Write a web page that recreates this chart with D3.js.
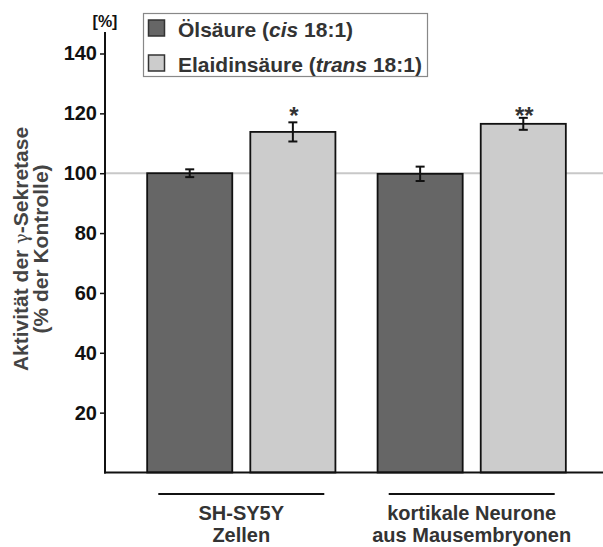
<!DOCTYPE html>
<html>
<head>
<meta charset="utf-8">
<script src="https://cdn.jsdelivr.net/npm/d3@7"></script>
<style>
  html, body { margin: 0; padding: 0; background: #fff; }
  svg { display: block; font-family: "Liberation Sans", Arial, sans-serif; }
</style>
</head>
<body>
<svg id="chart" width="603" height="547"></svg>
<script>
// Cell types (groups along the x axis)
const groups = ["SH-SY5Y Zellen", "kortikale Neurone aus Mausembryonen"];
const groupLines = [["SH-SY5Y", "Zellen"], ["kortikale Neurone", "aus Mausembryonen"]];
// Fatty acid treatments
const series = ["cis", "trans"];
// gamma-secretase activity, % of control
const means = [[100, 113.8], [99.8, 116.5]];
const errors = [[1.3, 3.2], [2.4, 2.0]];
const stars = [["", "*"], ["", "**"]];
const yTicks = [20, 40, 60, 80, 100, 120, 140];

const svg = d3.select("#chart");
const W = 603;

const y = d3.scaleLinear().domain([0, 140]).range([472.5, 53.5]);
const x0 = d3.scaleBand().domain(groups).range([105, 608]).paddingInner(0.183).paddingOuter(0.183);
const x1 = d3.scaleBand().domain(series).range([0, x0.bandwidth()]).paddingInner(0.175);
const fill = d3.scaleOrdinal().domain(series).range(["#666666", "#cccccc"]);

// control reference line at 100 %
svg.append("line")
  .attr("x1", 105).attr("x2", W)
  .attr("y1", y(100)).attr("y2", y(100))
  .attr("stroke", "#c8c8c8").attr("stroke-width", 2);

// significance marks share one level above both groups
const starLevel = 122;

// bars
const g = svg.selectAll("g.grp").data(groups).join("g")
  .attr("class", "grp")
  .attr("transform", d => `translate(${x0(d)},0)`);

g.each(function(grp, gi) {
  const sel = d3.select(this);
  series.forEach((s, si) => {
    const v = means[gi][si], e = errors[gi][si];
    const cx = x1(s) + x1.bandwidth() / 2;
    sel.append("rect")
      .attr("x", x1(s)).attr("width", x1.bandwidth())
      .attr("y", y(v)).attr("height", y(0) - y(v))
      .attr("fill", fill(s)).attr("stroke", "#111").attr("stroke-width", 1.8);
    // error bar
    const eb = sel.append("g").attr("stroke", "#111").attr("stroke-width", 2);
    eb.append("line").attr("x1", cx).attr("x2", cx).attr("y1", y(v + e)).attr("y2", y(v - e));
    eb.append("line").attr("x1", cx - 4.5).attr("x2", cx + 4.5).attr("y1", y(v + e)).attr("y2", y(v + e));
    eb.append("line").attr("x1", cx - 4.5).attr("x2", cx + 4.5).attr("y1", y(v - e)).attr("y2", y(v - e));
    if (stars[gi][si]) {
      sel.append("text")
        .attr("x", cx + 1).attr("y", y(starLevel) + 17)
        .attr("text-anchor", "middle")
        .attr("font-size", 24).attr("font-weight", "bold").attr("fill", "#333")
        .text(stars[gi][si]);
    }
  });
});

// y axis
const yAxis = d3.axisLeft(y).tickValues(yTicks).tickSize(5).tickPadding(3);
const ya = svg.append("g").attr("transform", "translate(105,0)").call(yAxis);
ya.select(".domain").remove();
ya.selectAll(".tick line").attr("stroke", "#111").attr("stroke-width", 1.5);
ya.selectAll(".tick text")
  .attr("font-size", 20).attr("font-weight", "bold").attr("fill", "#111")
  .attr("font-family", "'Liberation Sans', Arial, sans-serif");
svg.append("line").attr("x1", 105).attr("x2", 105).attr("y1", 32).attr("y2", 473.5)
  .attr("stroke", "#111").attr("stroke-width", 2);
// baseline
svg.append("line").attr("x1", 104).attr("x2", W).attr("y1", 472.5).attr("y2", 472.5)
  .attr("stroke", "#111").attr("stroke-width", 2);

svg.append("text").attr("x", 105).attr("y", 27).attr("text-anchor", "middle")
  .attr("font-size", 16).attr("font-weight", "bold").attr("fill", "#111").text("[%]");

// y axis title
const yt = svg.append("text")
  .attr("transform", "translate(0,249) rotate(-90)")
  .attr("text-anchor", "middle")
  .attr("font-size", 21).attr("font-weight", "bold").attr("fill", "#444");
const l1 = yt.append("tspan").attr("x", 0).attr("y", 28);
l1.append("tspan").text("Aktivität der ");
l1.append("tspan").attr("font-weight", "normal").attr("font-family", "'DejaVu Serif', serif").attr("font-size", 18).text("γ");
l1.append("tspan").text("-Sekretase");
yt.append("tspan").attr("x", 0).attr("y", 48).text("(% der Kontrolle)");

// group labels below the axis
groups.forEach((grp, gi) => {
  const cx = x0(grp) + x0.bandwidth() / 2;
  svg.append("line").attr("x1", cx - 83).attr("x2", cx + 83).attr("y1", 494).attr("y2", 494)
    .attr("stroke", "#111").attr("stroke-width", 2);
  const t = svg.append("text").attr("text-anchor", "middle")
    .attr("font-size", 20).attr("font-weight", "bold").attr("fill", "#333");
  groupLines[gi].forEach((ln, li) => {
    t.append("tspan").attr("x", cx).attr("y", 520 + li * 22).text(ln);
  });
});

// legend
const lg = svg.append("g");
lg.append("rect").attr("x", 143.5).attr("y", 13.5).attr("width", 284).attr("height", 63)
  .attr("fill", "#fff").attr("stroke", "#888").attr("stroke-width", 1.2);
const legendItems = [
  { s: "cis", parts: [["Ölsäure (", "normal"], ["cis", "italic"], [" 18:1)", "normal"]] },
  { s: "trans", parts: [["Elaidinsäure (", "normal"], ["trans", "italic"], [" 18:1)", "normal"]] }
];
legendItems.forEach((it, i) => {
  const yy = 20 + i * 35;
  lg.append("rect").attr("x", 148.5).attr("y", yy).attr("width", 16).attr("height", 16)
    .attr("fill", fill(it.s)).attr("stroke", "#333").attr("stroke-width", 1.5);
  const t = lg.append("text").attr("x", 178).attr("y", yy + 16.5)
    .attr("font-size", 21).attr("font-weight", "bold").attr("fill", "#333");
  it.parts.forEach(p => t.append("tspan").attr("font-style", p[1]).text(p[0]));
});
</script>
</body>
</html>
